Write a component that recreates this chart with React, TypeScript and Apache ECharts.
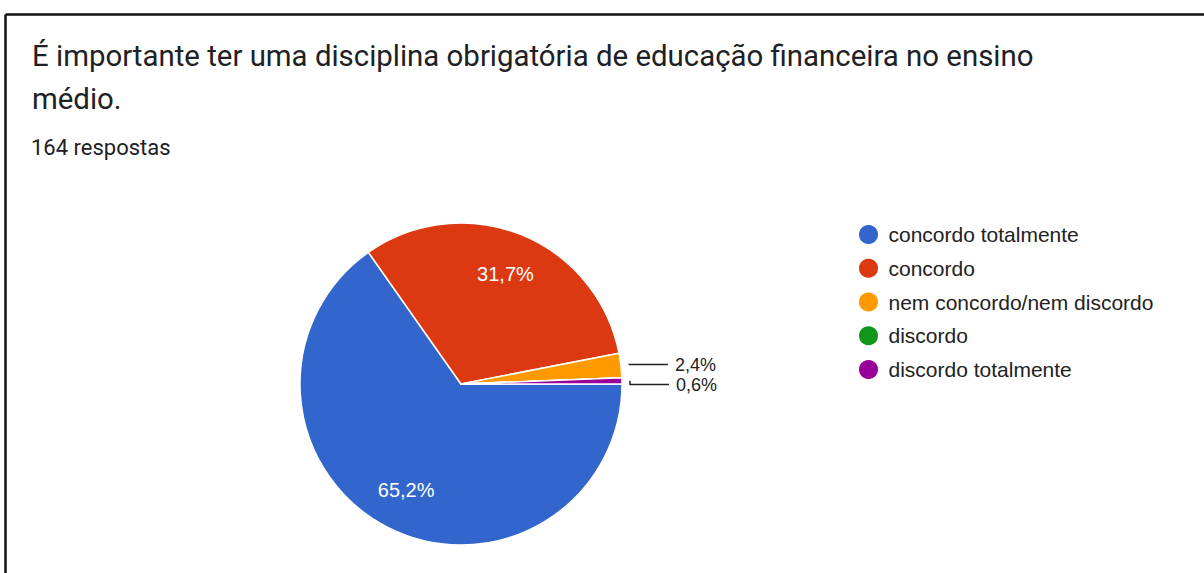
import React, { useEffect, useRef } from "react";
import * as echarts from "echarts";

const TITLE = "É importante ter uma disciplina obrigatória de educação financeira no ensino\nmédio.";
const SUBTITLE = "164 respostas";
const categories = [
  "concordo totalmente",
  "concordo",
  "nem concordo/nem discordo",
  "discordo",
  "discordo totalmente",
];
const counts = [107, 52, 4, 0, 1];
const colors = ["#3366cc", "#dc3912", "#ff9900", "#109618", "#990099"];

const total = counts.reduce((a, b) => a + b, 0);
const pct = (v: number) => (v / total) * 100;
const fmt = (v: number) => pct(v).toFixed(1).replace(".", ",") + "%";

const CENTER = [461, 384];
const R = 161;

export default function App() {
  const ref = useRef<HTMLDivElement>(null);
  useEffect(() => {
    if (!ref.current) return;
    const chart = echarts.init(ref.current, null, { renderer: "svg" });

    const baseData = categories.map((name, i) => ({
      name,
      value: counts[i],
      itemStyle: { color: colors[i] },
    }));

    const insideData = categories.map((name, i) => ({
      name,
      value: counts[i],
      label: { show: pct(counts[i]) >= 5 },
    }));

    const outsideData = categories.map((name, i) => {
      const p = pct(counts[i]);
      const show = p > 0 && p < 5;
      return {
        name,
        value: counts[i],
        label: { show },
        labelLine: { show },
      };
    });

    chart.setOption({
      animation: false,
      color: colors,
      title: [
        {
          text: TITLE,
          left: 32,
          top: 34,
          padding: 0,
          textStyle: {
            fontFamily: "Roboto",
            fontSize: 29.4,
            fontWeight: "normal",
            color: "#202124",
            lineHeight: 43.5,
          },
        },
        {
          text: SUBTITLE,
          left: 31,
          top: 136,
          padding: 0,
          textStyle: {
            fontFamily: "Roboto",
            fontSize: 22,
            fontWeight: "normal",
            color: "#202124",
            lineHeight: 22,
          },
        },
      ],
      legend: {
        orient: "vertical",
        left: 857,
        top: 223,
        padding: 0,
        icon: "circle",
        itemWidth: 30,
        itemHeight: 21,
        itemGap: 10.75,
        data: categories,
        textStyle: {
          fontFamily: "'Liberation Sans', Arial, sans-serif",
          fontSize: 21,
          color: "#222222",
          lineHeight: 21,
          padding: 0,
        },
      },
      graphic: [
        {
          type: "line",
          shape: { x1: 5.5, y1: 14.5, x2: 1204, y2: 14.5 },
          style: { stroke: "#111111", lineWidth: 2.5 },
          silent: true,
        },
        {
          type: "line",
          shape: { x1: 5.5, y1: 14.5, x2: 5.5, y2: 573 },
          style: { stroke: "#111111", lineWidth: 2.5 },
          silent: true,
        },
      ],
      series: [
        {
          type: "pie",
          center: CENTER,
          radius: R,
          startAngle: 0,
          clockwise: true,
          silent: true,
          itemStyle: { borderColor: "#ffffff", borderWidth: 1.5 },
          label: { show: false },
          labelLine: { show: false },
          emphasis: { disabled: true },
          data: baseData,
        },
        {
          type: "pie",
          center: CENTER,
          radius: 232,
          startAngle: 0,
          clockwise: true,
          silent: true,
          itemStyle: { color: "rgba(0,0,0,0)", borderWidth: 0 },
          label: {
            position: "inside",
            color: "#ffffff",
            fontFamily: "'Liberation Sans', Arial, sans-serif",
            fontSize: 20,
            formatter: (p: any) => fmt(p.value),
          },
          labelLine: { show: false },
          emphasis: { disabled: true },
          data: insideData,
        },
        {
          type: "pie",
          center: CENTER,
          radius: 169,
          startAngle: 0,
          clockwise: true,
          silent: true,
          itemStyle: { color: "rgba(0,0,0,0)", borderWidth: 0 },
          label: {
            position: "outside",
            color: "#222222",
            fontFamily: "'Liberation Sans', Arial, sans-serif",
            fontSize: 18,
            distanceToLabelLine: 7,
            formatter: (p: any) => fmt(p.value),
          },
          labelLine: {
            length: 1,
            length2: 45,
            lineStyle: { color: "#222222", width: 1.5 },
          },
          emphasis: { disabled: true },
          data: outsideData,
        },
      ],
    });
    return () => chart.dispose();
  }, []);

  return (
    <div
      ref={ref}
      style={{ position: "absolute", left: 0, top: 0, width: 1204, height: 573, background: "#ffffff" }}
    />
  );
}
